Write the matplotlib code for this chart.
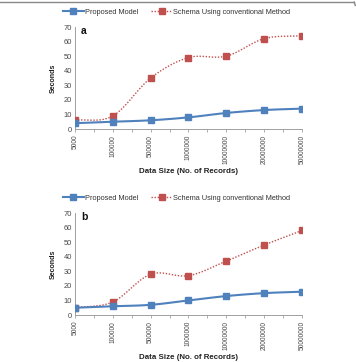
import numpy as np
import matplotlib

matplotlib.use("Agg")
import matplotlib.pyplot as plt
from matplotlib.lines import Line2D

plt.rcParams["font.family"] = ["Liberation Sans", "DejaVu Sans"]

sizes = ["5000", "100000", "500000", "1000000", "10000000", "20000000", "50000000"]
proposed_a = [4, 5, 6, 8, 11, 13, 14]
conventional_a = [6, 9, 35, 49, 50, 62, 64]
proposed_b = [5, 6, 7, 10, 13, 15, 16]
conventional_b = [5, 9, 28, 27, 37, 48, 58]

BLUE = "#4F81BD"
RED = "#C0504D"
GREY = "#474747"


def smooth(y, n=20):
    # Catmull-Rom curve through the points (Excel "smoothed line" look)
    y = np.asarray(y, float)
    x = np.arange(len(y), dtype=float)
    px = np.concatenate([[2 * x[0] - x[1]], x, [2 * x[-1] - x[-2]]])
    py = np.concatenate([[2 * y[0] - y[1]], y, [2 * y[-1] - y[-2]]])
    xs, ys = [], []
    t = np.linspace(0, 1, n, endpoint=False)
    for i in range(1, len(px) - 2):
        for arr, out in ((px, xs), (py, ys)):
            p0, p1, p2, p3 = arr[i - 1], arr[i], arr[i + 1], arr[i + 2]
            out.extend(0.5 * (2 * p1 + (-p0 + p2) * t + (2 * p0 - 5 * p1 + 4 * p2 - p3) * t ** 2
                              + (-p0 + 3 * p1 - 3 * p2 + p3) * t ** 3))
    xs.append(x[-1])
    ys.append(y[-1])
    return np.array(xs), np.array(ys)


def panel(ax, prop, conv, letter):
    x = np.arange(len(sizes))
    sx, sy = smooth(conv)
    ax.plot(sx, sy, color=RED, lw=1.0, ls=(0, (1, 1.2)), zorder=2)
    ax.plot(x, conv, ls="none", marker="s", ms=4.3, color=RED, zorder=3)
    sx, sy = smooth(prop)
    ax.plot(sx, sy, color=BLUE, lw=1.5, zorder=2)
    ax.plot(x, prop, ls="none", marker="s", ms=4.3, color=BLUE, zorder=3)

    ax.set_xlim(0, len(sizes) - 1)
    ax.set_ylim(0, 70)
    ax.set_yticks(range(0, 71, 10))
    ax.set_xticks(x)
    ax.set_xticklabels(sizes, rotation=90, fontsize=4.8, color=GREY)
    ax.set_xticks(x[:-1] + 0.5, minor=True)
    ax.tick_params(axis="x", which="both", length=2.2, color="#A0A0A0", width=0.6,
                   direction="out", pad=2)
    ax.tick_params(axis="y", length=0, labelsize=5.4, labelcolor=GREY, pad=2)
    for s in ("top", "right"):
        ax.spines[s].set_visible(False)
    for s in ("left", "bottom"):
        ax.spines[s].set_color("#A0A0A0")
        ax.spines[s].set_linewidth(0.7)
    ax.set_ylabel("Seconds", fontsize=5.1, weight="bold", color="#222222")
    ax.yaxis.label.set_va("center")
    ax.yaxis.set_label_coords(-0.095, 0.5)
    ax.set_xlabel("Data Size (No. of Records)", fontsize=5.7, weight="bold", color="#222222")
    ax.xaxis.label.set_va("center")
    ax.xaxis.set_label_coords(0.5, -0.42)
    ax.text(0.04, 0.96, letter, transform=ax.transAxes, fontsize=7.5, weight="bold",
            va="center", ha="center", color="#111111")

    handles = [
        Line2D([], [], color=BLUE, lw=1.5, marker="s", ms=3.8),
        Line2D([], [], color=RED, lw=1.0, ls=(0, (1, 1.2)), marker="s", ms=3.8),
    ]
    ax.legend(handles, ["Proposed Model", "Schema Using conventional Method"],
              loc="center", bbox_to_anchor=(0.447, 1.147), ncol=2, frameon=False,
              fontsize=5.3, handlelength=2.8, columnspacing=1.8, handletextpad=0.15,
              labelcolor="#333333", borderaxespad=0, borderpad=0)


fig = plt.figure(figsize=(3.56, 3.62), dpi=100)
ax_a = fig.add_axes([0.2107, 0.6436, 0.6375, 0.2818])
ax_b = fig.add_axes([0.2107, 0.1298, 0.6375, 0.2818])
panel(ax_a, proposed_a, conventional_a, "a")
panel(ax_b, proposed_b, conventional_b, "b")

# thin frame line along the top edge
fig.add_artist(Line2D([0.0, 0.995], [0.994, 0.994], color="#888888", lw=1.0))
fig.add_artist(Line2D([0.995, 0.998], [0.994, 0.985], color="#888888", lw=1.0))

fig.savefig("out.png", dpi=100)
